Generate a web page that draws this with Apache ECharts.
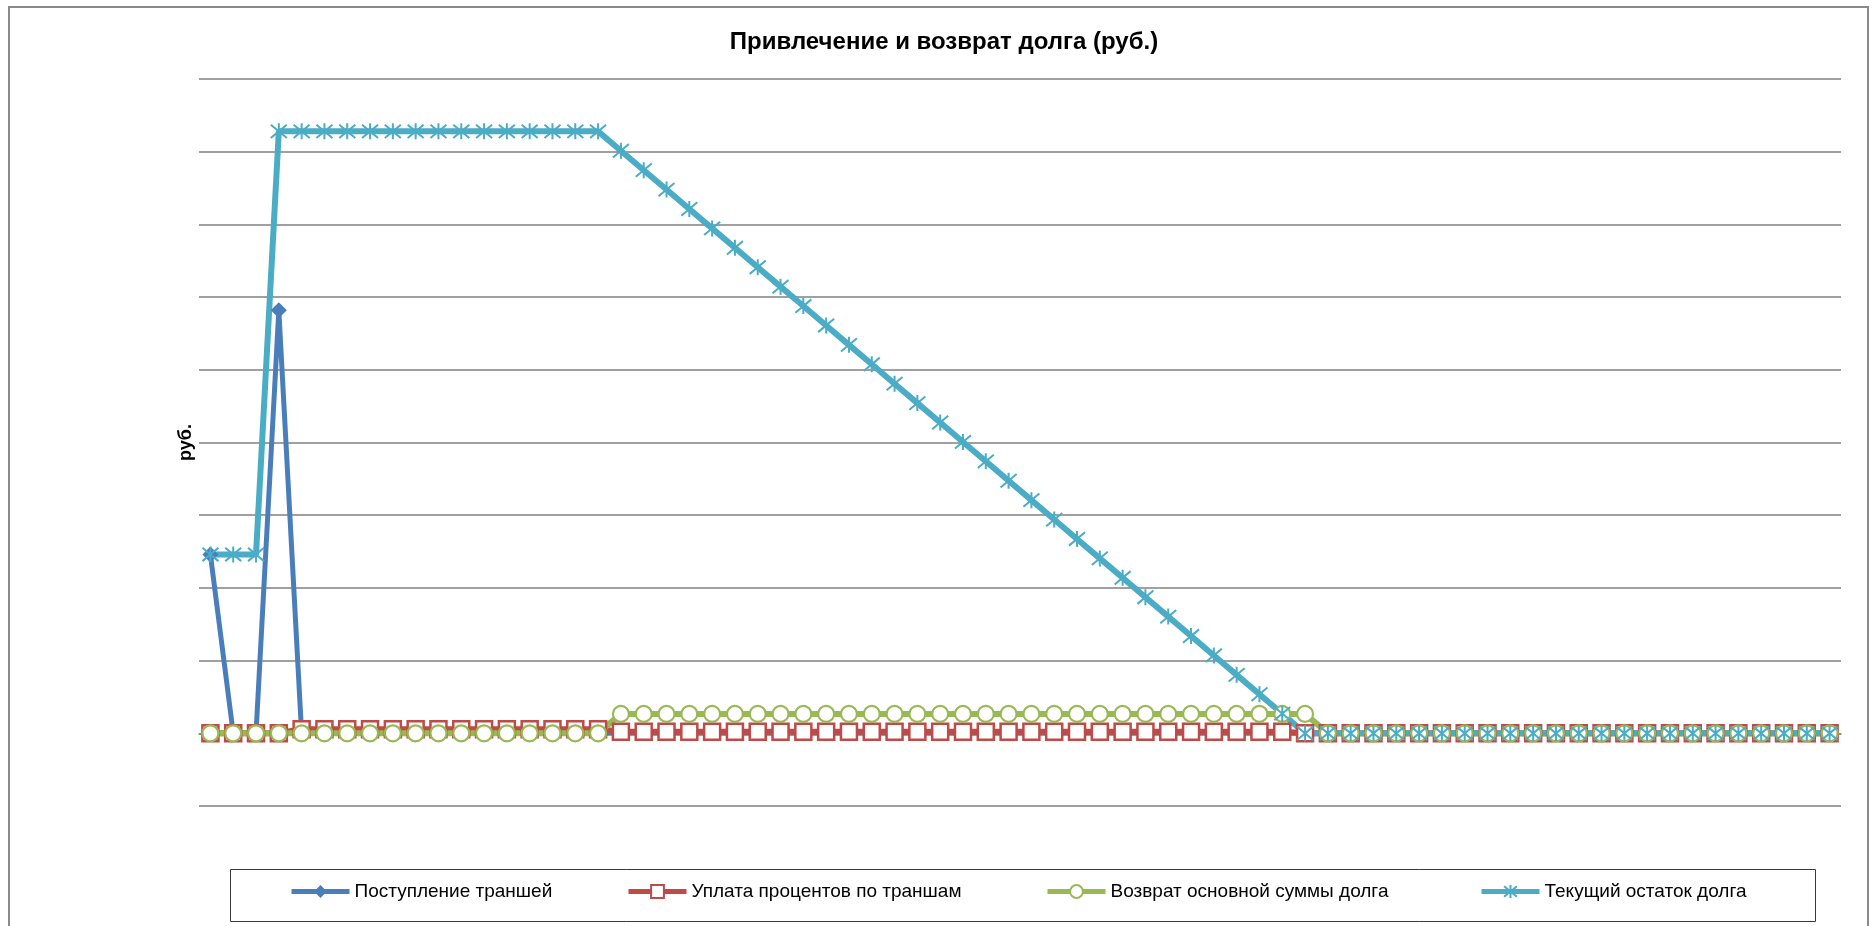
<!DOCTYPE html>
<html>
<head>
<meta charset="utf-8">
<script src="https://cdn.jsdelivr.net/npm/echarts@6/dist/echarts.min.js"></script>
<style>
html,body{margin:0;padding:0;background:#fff;}
#chart{width:1873px;height:926px;}
</style>
</head>
<body>
<div id="chart"></div>
<script>
const titleText = 'Привлечение и возврат долга (руб.)';
const yName = 'руб.';
const seriesNames = ['Поступление траншей', 'Уплата процентов по траншам', 'Возврат основной суммы долга', 'Текущий остаток долга'];

const periods = [
  1,2,3,4,5,6,7,8,9,10,11,12,13,14,15,16,17,18,19,20,
  21,22,23,24,25,26,27,28,29,30,31,32,33,34,35,36,37,38,39,40,
  41,42,43,44,45,46,47,48,49,50,51,52,53,54,55,56,57,58,59,60,
  61,62,63,64,65,66,67,68,69,70,71,72
];

const tranches = [
  2460000,0,0,5820000,0,0,0,0,0,0,
  0,0,0,0,0,0,0,0,0,0,
  0,0,0,0,0,0,0,0,0,0,
  0,0,0,0,0,0,0,0,0,0,
  0,0,0,0,0,0,0,0,0,0,
  0,0,0,0,0,0,0,0,0,0,
  0,0,0,0,0,0,0,0,0,0,
  0,0
];

const interest = [
  0,0,0,0,56000,56000,56000,56000,56000,56000,
  56000,56000,56000,56000,56000,56000,56000,56000,23000,23000,
  23000,23000,23000,23000,23000,23000,23000,23000,23000,23000,
  23000,23000,23000,23000,23000,23000,23000,23000,23000,23000,
  23000,23000,23000,23000,23000,23000,23000,23000,0,0,
  0,0,0,0,0,0,0,0,0,0,
  0,0,0,0,0,0,0,0,0,0,
  0,0
];

const principal = [
  0,0,0,0,0,0,0,0,0,0,
  0,0,0,0,0,0,0,0,267000,267000,
  267000,267000,267000,267000,267000,267000,267000,267000,267000,267000,
  267000,267000,267000,267000,267000,267000,267000,267000,267000,267000,
  267000,267000,267000,267000,267000,267000,267000,267000,267000,0,
  0,0,0,0,0,0,0,0,0,0,
  0,0,0,0,0,0,0,0,0,0,
  0,0
];

const balance = [
  2460000,2460000,2460000,8280000,8280000,8280000,8280000,8280000,8280000,8280000,
  8280000,8280000,8280000,8280000,8280000,8280000,8280000,8280000,8013000,7746000,
  7479000,7212000,6945000,6678000,6411000,6144000,5877000,5610000,5343000,5076000,
  4809000,4542000,4275000,4008000,3741000,3474000,3207000,2940000,2673000,2406000,
  2139000,1872000,1605000,1338000,1071000,804000,537000,270000,0,0,
  0,0,0,0,0,0,0,0,0,0,
  0,0,0,0,0,0,0,0,0,0,
  0,0
];

const yMin = -1000000, yMax = 9000000, yStep = 1000000;

const colors = ['#4A7EBB', '#BE4B48', '#98B954', '#4BACC6'];
const FONT = '"Liberation Sans", Arial, sans-serif';
const starPath = 'path://M0,0L10,10M10,0L0,10M5,-1L5,11';

const chart = echarts.init(document.getElementById('chart'));

function legendAt(name, x) {
  return {
    data: [name], left: x, top: 882, padding: 0,
    itemWidth: 58, itemHeight: 16, itemGap: 4,
    lineStyle: {width: 5},
    textStyle: {fontFamily: FONT, fontSize: 19, color: '#000'},
    selectedMode: false
  };
}

chart.setOption({
  animation: false,
  backgroundColor: '#fff',
  color: colors,
  title: {
    text: titleText, left: 939, top: 25, textAlign: 'center',
    textStyle: {fontFamily: FONT, fontSize: 24, fontWeight: 'bold', color: '#000'}
  },
  legend: [
    legendAt(seriesNames[0], 289),
    legendAt(seriesNames[1], 626),
    legendAt(seriesNames[2], 1045),
    legendAt(seriesNames[3], 1479)
  ],
  graphic: [
    {type: 'rect', shape: {x: 9, y: 7, width: 1859, height: 940}, style: {fill: 'none', stroke: '#8a8a8a', lineWidth: 2}, silent: true},
    {type: 'rect', shape: {x: 230.5, y: 869.5, width: 1585, height: 52}, style: {fill: 'none', stroke: '#3a3a3a', lineWidth: 1}, silent: true}
  ],
  grid: {left: 199, right: 32, top: 79, bottom: 120},
  xAxis: {
    type: 'category', data: periods, boundaryGap: true,
    axisLine: {show: true, onZero: true, lineStyle: {color: '#868686', width: 1.5}},
    axisTick: {show: false}, axisLabel: {show: false}, splitLine: {show: false}
  },
  yAxis: {
    type: 'value', min: yMin, max: yMax, interval: yStep,
    name: yName, nameLocation: 'middle', nameGap: 4,
    nameTextStyle: {fontFamily: FONT, fontSize: 18, fontWeight: 'bold', color: '#000'},
    axisLine: {show: false}, axisTick: {show: false}, axisLabel: {show: false},
    splitLine: {lineStyle: {color: '#808080', width: 1.6}}
  },
  series: [
    {name: seriesNames[0], type: 'line', data: tranches, symbol: 'diamond', symbolSize: 16, showAllSymbol: true,
     lineStyle: {width: 5, color: colors[0]}, itemStyle: {color: colors[0]}},
    {name: seriesNames[1], type: 'line', data: interest, symbol: 'rect', symbolSize: 16, showAllSymbol: true,
     lineStyle: {width: 6, color: colors[1]}, itemStyle: {color: '#fff', borderColor: colors[1], borderWidth: 2.5}},
    {name: seriesNames[2], type: 'line', data: principal, symbol: 'circle', symbolSize: 16, showAllSymbol: true,
     lineStyle: {width: 6, color: colors[2]}, itemStyle: {color: '#fff', borderColor: colors[2], borderWidth: 2.2}},
    {name: seriesNames[3], type: 'line', data: balance, symbol: starPath, symbolSize: 16, showAllSymbol: true,
     lineStyle: {width: 6, color: colors[3]}, itemStyle: {color: colors[3], borderColor: colors[3], borderWidth: 2}}
  ]
});
</script>
</body>
</html>
